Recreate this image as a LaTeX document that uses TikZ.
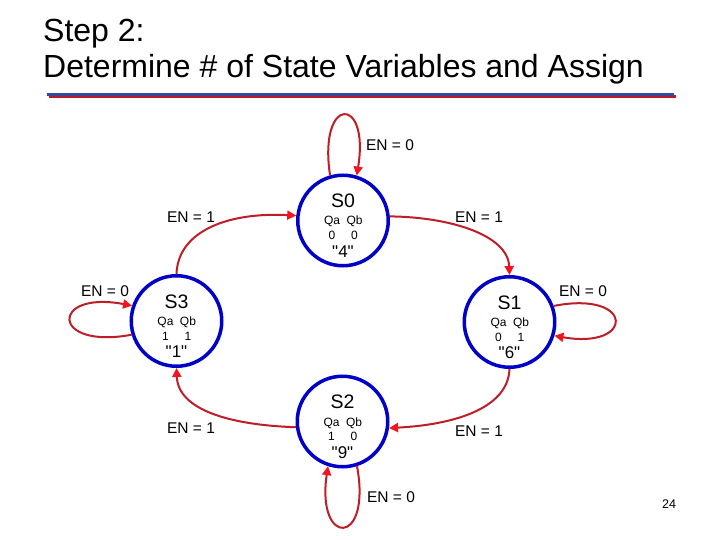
\documentclass[tikz,border=0pt]{standalone}
\usepackage{fontspec}
\setmainfont{Liberation Sans}
\newfontfamily\qfont{Liberation Sans}[Ligatures=TeXOff]
\usetikzlibrary{arrows.meta,calc}
\definecolor{stblue}{RGB}{0,0,200}
\definecolor{trred}{RGB}{190,30,40}
\definecolor{tipred}{RGB}{245,20,30}
\definecolor{ruleblue}{RGB}{50,75,155}
\definecolor{rulered}{RGB}{185,25,45}
\newcommand\stnode[7]{%
  \node[state] (#1) at (#2,#3) {};
  \node[stname,anchor=base] (#1n) at ($(#1)+(0,-13)$) {#4};
  \node[stsmall,anchor=base] (#1qa) at ($(#1)+(-11,4.5)$) {Qa};
  \node[stsmall,anchor=base] (#1qb) at ($(#1)+(11.5,4.5)$) {Qb};
  \node[stsmall,anchor=base] (#1va) at ($(#1)+(-11,19)$) {#5};
  \node[stsmall,anchor=base] (#1vb) at ($(#1)+(11.5,19)$) {#6};
  \node[stnum,anchor=base] (#1num) at ($(#1)+(0,36.5)$) {"#7"};
}
\begin{document}
\begin{tikzpicture}[x=1pt,y=-1pt,
  state/.style={circle,draw=stblue,line width=3.5pt,minimum size=90.5pt,inner sep=0pt},
  stname/.style={font=\fontsize{19.5}{22}\selectfont,inner sep=0pt},
  stsmall/.style={font=\fontsize{12}{14}\selectfont,inner sep=0pt},
  stnum/.style={font=\qfont\fontsize{17}{20}\selectfont,inner sep=0pt},
  trans/.style={draw=trred,line width=2pt,-{Triangle[length=9pt,width=9pt,color=tipred]}},
  lbl/.style={font=\fontsize{15.5}{18}\selectfont,inner sep=0pt},
  title/.style={font=\fontsize{32}{36}\selectfont,inner sep=0pt,anchor=base west}]
\useasboundingbox (0,0) rectangle (720,540);
\fill[white] (0,0) rectangle (720,540);
% title
\node[title] (t1) at (43,41.5) {Step 2:};
\node[title] (t2) at (43,77.7) {Determine \# of State Variables and Assign};
\draw[rulered,line width=2.5pt] (49,96.5) -- (676,96.5);
\draw[ruleblue,line width=2.5pt] (47,94.5) -- (674,94.5);
% states
\stnode{s0}{343}{220.5}{S0}{0}{0}{4}
\stnode{s3}{176.5}{321}{S3}{1}{1}{1}
\stnode{s1}{509.5}{322}{S1}{0}{1}{6}
\stnode{s2}{342.5}{421.5}{S2}{1}{0}{9}
% self loops
\draw[trans] (s0.106) .. controls (318,95) and (370,95) .. (s0.73);
\draw[trans] (s3.197) .. controls (50,350) and (50,290) .. (s3.161);
\draw[trans] (s1.20) .. controls (635,290) and (635,350) .. (s1.343);
\draw[trans] (s2.288) .. controls (372,547) and (316,547) .. (s2.252);
% transitions
\draw[trans] (s3.north) .. controls (178,230) and (230,212) .. (s0.174);
\draw[trans] (s0.5) .. controls (450,217) and (508,235) .. (s1.north);
\draw[trans] (s1.south) .. controls (508,410) and (450,425) .. (s2.352);
\draw[trans] (s2.187) .. controls (230,425) and (178,410) .. (s3.south);
% labels
\node[lbl] (l0) at (390,145) {EN = 0};
\node[lbl] (l3) at (105,291) {EN = 0};
\node[lbl] (l1) at (583,291) {EN = 0};
\node[lbl] (l2) at (391,497) {EN = 0};
\node[lbl] (a30) at (191,217) {EN = 1};
\node[lbl] (a01) at (479,217) {EN = 1};
\node[lbl] (a12) at (479,431) {EN = 1};
\node[lbl] (a23) at (191,428) {EN = 1};
\node[font=\fontsize{12.5}{15}\selectfont,inner sep=0pt] (pg) at (669,504) {24};
\end{tikzpicture}
\end{document}
